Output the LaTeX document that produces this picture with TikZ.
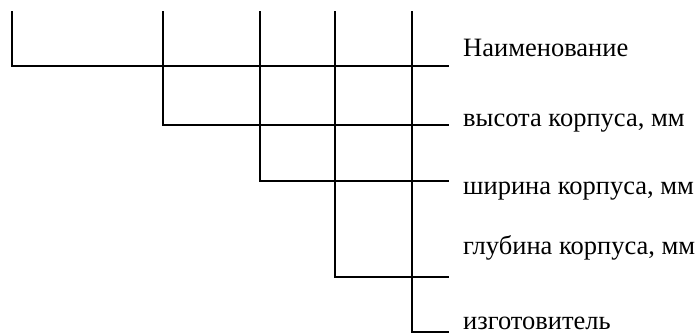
\documentclass[tikz,border=0pt]{standalone}
\usepackage{fontspec}
\setmainfont{Liberation Serif}
\begin{document}
\begin{tikzpicture}[x=1pt,y=-1pt,
  wire/.style={line width=2.2pt,line cap=rect},
  lbl/.style={anchor=base west,inner sep=0pt,font=\fontsize{26.5}{32}\selectfont}]
\useasboundingbox (0,0) rectangle (698,336);
% top ends
\coordinate (t1) at (12,12);
\coordinate (t2) at (163,12);
\coordinate (t3) at (260,12);
\coordinate (t4) at (335,12);
\coordinate (t5) at (412,12);
% corners
\coordinate (c1) at (12,66);
\coordinate (c2) at (163,125);
\coordinate (c3) at (260,181);
\coordinate (c4) at (335,277);
\coordinate (c5) at (412,332);
% right ends
\coordinate (e1) at (448,66);
\coordinate (e2) at (448,125);
\coordinate (e3) at (448,181);
\coordinate (e4) at (448,277);
\coordinate (e5) at (448,332);
\draw[wire] (t1) -- (c1) -- (e1);
\draw[wire] (t2) -- (c2) -- (e2);
\draw[wire] (t3) -- (c3) -- (e3);
\draw[wire] (t4) -- (c4) -- (e4);
\draw[wire] (t5) -- (c5) -- (e5);
\node[lbl] (n1) at (463,57) {Наименование};
\node[lbl] (n2) at (463,127) {высота корпуса, мм};
\node[lbl] (n3) at (463,195) {ширина корпуса, мм};
\node[lbl] (n4) at (463,255) {глубина корпуса, мм};
\node[lbl] (n5) at (463,330) {изготовитель};
\end{tikzpicture}
\end{document}
